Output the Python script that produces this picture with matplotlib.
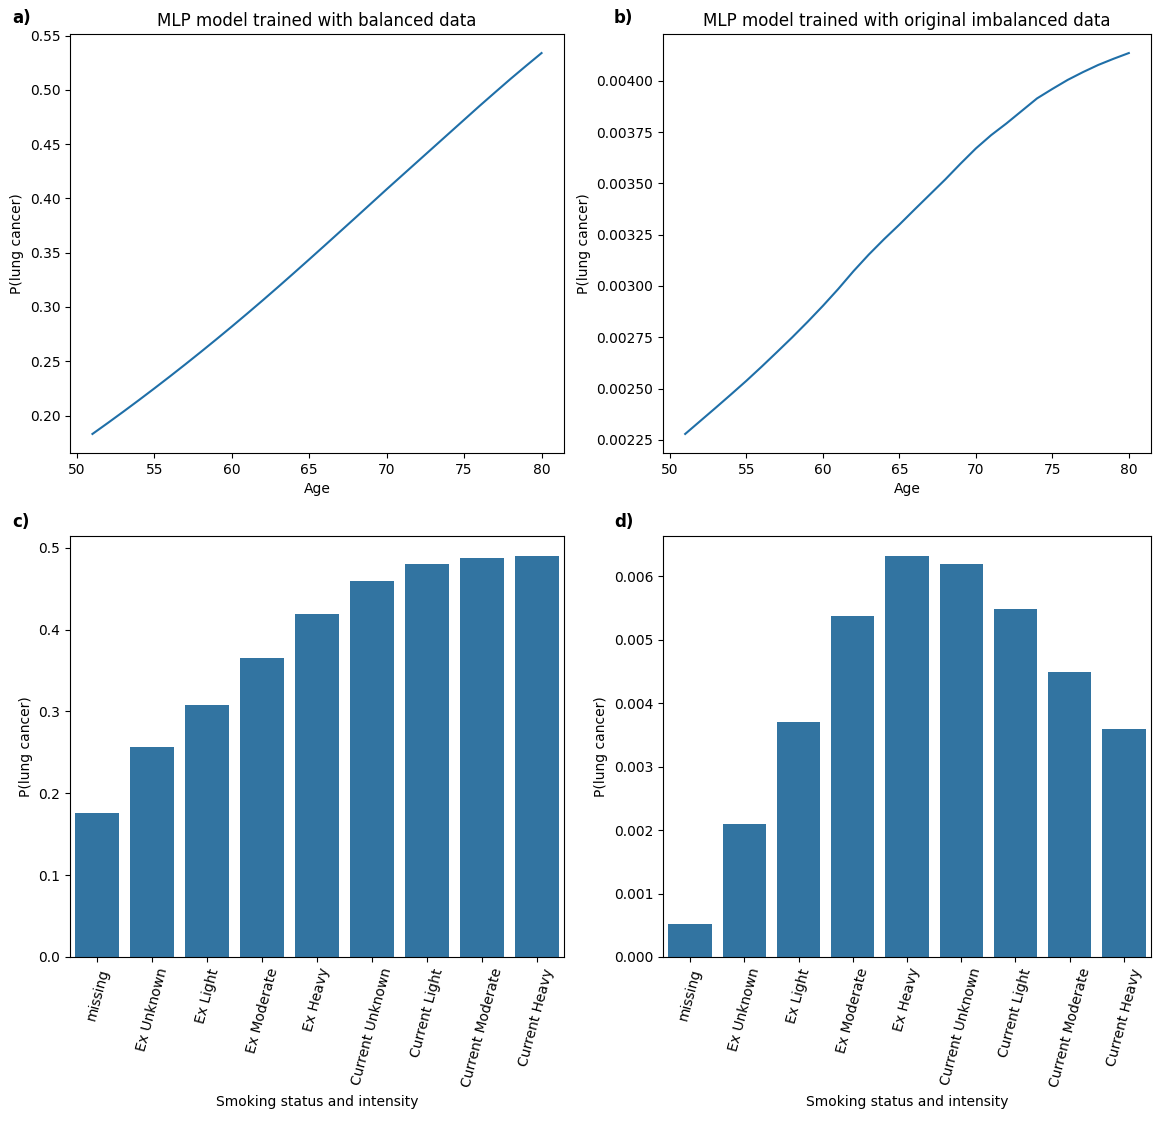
import numpy as np
import matplotlib
matplotlib.use('Agg')
import matplotlib.pyplot as plt

# === DATOS ===
edades = list(range(51, 81))

prob_balanceado = [0.1830, 0.1932, 0.2036, 0.2142, 0.2250, 0.2360, 0.2472, 0.2586, 0.2702, 0.2820,
                   0.2940, 0.3062, 0.3186, 0.3312, 0.3439, 0.3567, 0.3696, 0.3825, 0.3955, 0.4085,
                   0.4213, 0.4341, 0.4469, 0.4597, 0.4725, 0.4853, 0.4978, 0.5102, 0.5222, 0.5340]

prob_original = [0.002279, 0.002343, 0.002407, 0.002472, 0.002538, 0.002607, 0.002678,
                 0.002750, 0.002825, 0.002903, 0.002985, 0.003072, 0.003153, 0.003228,
                 0.003299, 0.003373, 0.003446, 0.003519, 0.003596, 0.003670, 0.003735,
                 0.003792, 0.003853, 0.003914, 0.003960, 0.004004, 0.004042, 0.004077,
                 0.004107, 0.004135]

categorias = ['missing', 'Ex Unknown', 'Ex Light', 'Ex Moderate', 'Ex Heavy',
              'Current Unknown', 'Current Light', 'Current Moderate', 'Current Heavy']

barras_balanceado = [0.1763, 0.2567, 0.3082, 0.3657, 0.4196, 0.4588, 0.4796, 0.4869, 0.4898]
barras_original = [0.000516, 0.002095, 0.003705, 0.005379, 0.006316, 0.006184,
                   0.005474, 0.004495, 0.003595]

COLOR_LINEA = '#1f6fa8'
COLOR_BARRA = '#3274a1'

# === FIGURA ===
fig = plt.figure(figsize=(11.7, 11.21), dpi=100)
W, H = 1170, 1121

def ejes(izq, arriba, der, abajo):
    return fig.add_axes([izq / W, 1 - abajo / H, (der - izq) / W, (abajo - arriba) / H])

ax_a = ejes(70, 34, 564, 453)
ax_b = ejes(663, 34, 1151, 453)
ax_c = ejes(70, 536, 564, 957)
ax_d = ejes(663, 536, 1151, 957)

# Curvas por edad
for ax, datos, titulo in [(ax_a, prob_balanceado, 'MLP model trained with balanced data'),
                          (ax_b, prob_original, 'MLP model trained with original imbalanced data')]:
    ax.plot(edades, datos, color=COLOR_LINEA, lw=1.5)
    ax.set_title(titulo, fontsize=12)
    ax.set_xlabel('Age', fontsize=10)
    ax.set_ylabel('P(lung cancer)', fontsize=10)
    ax.set_xticks([50, 55, 60, 65, 70, 75, 80])
    ax.tick_params(labelsize=10)

ax_a.set_yticks(np.arange(0.20, 0.551, 0.05))
ax_b.set_yticks(np.arange(0.00225, 0.004001, 0.00025))
ax_b.yaxis.set_major_formatter(matplotlib.ticker.FormatStrFormatter('%.5f'))

# Barras por tabaquismo
for ax, datos in [(ax_c, barras_balanceado), (ax_d, barras_original)]:
    x = np.arange(len(categorias))
    ax.bar(x, datos, width=0.8, color=COLOR_BARRA)
    ax.set_xlim(-0.5, len(categorias) - 0.5)
    ax.set_xticks(x)
    ax.set_xticklabels(categorias, rotation=75, fontsize=10)
    ax.set_xlabel('Smoking status and intensity', fontsize=10)
    ax.set_ylabel('P(lung cancer)', fontsize=10)
    ax.tick_params(labelsize=10)

ax_c.set_yticks(np.arange(0, 0.51, 0.1))
ax_c.yaxis.set_major_formatter(matplotlib.ticker.FormatStrFormatter('%.1f'))
ax_d.set_yticks(np.arange(0, 0.0061, 0.001))
ax_d.yaxis.set_major_formatter(matplotlib.ticker.FormatStrFormatter('%.3f'))

# Letras de panel
for letra, (px, py) in [('a)', (12, 18)), ('b)', (614, 18)), ('c)', (12, 522)), ('d)', (614, 522))]:
    fig.text(px / W, 1 - py / H, letra, fontsize=12, fontweight='bold', va='center')

fig.savefig('out.png', dpi=100)
